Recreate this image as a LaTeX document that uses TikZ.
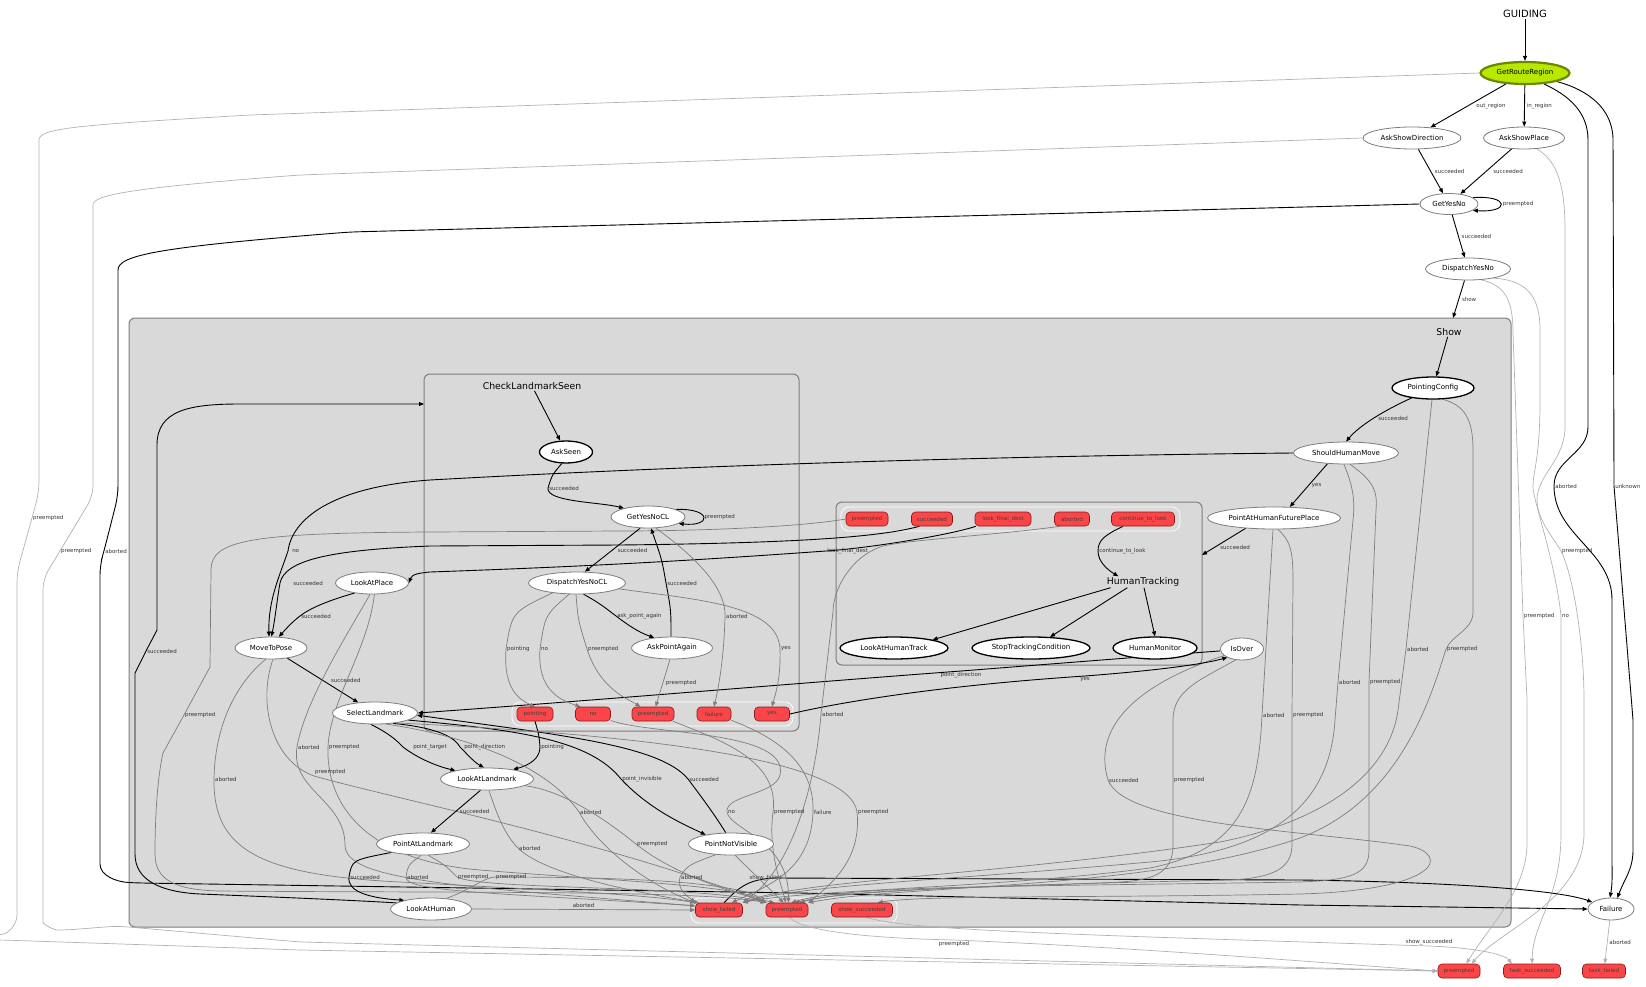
\documentclass[tikz,border=0pt]{standalone}
\usepackage{fontspec}
\setmainfont{DejaVu Sans}
\usetikzlibrary{arrows.meta,positioning,shapes.geometric}
\definecolor{outred}{RGB}{250,70,72}
\definecolor{outline}{RGB}{140,25,25}
\definecolor{limefill}{RGB}{185,232,0}
\definecolor{limeline}{RGB}{105,135,0}
\definecolor{clfill}{RGB}{217,217,217}
\definecolor{clline}{RGB}{125,125,125}
\definecolor{midgray}{RGB}{125,125,125}
\definecolor{lightgray}{RGB}{178,178,178}
\definecolor{lbltext}{RGB}{55,50,45}
\pgfdeclarelayer{bg}
\pgfdeclarelayer{edgelayer}
\pgfsetlayers{bg,edgelayer,main}
\tikzset{
  stnode/.style={ellipse,draw=clline,fill=white,line width=0.8pt,minimum height=22pt,inner sep=0pt,font=\fontsize{7}{8}\selectfont},
  stbold/.style={stnode,draw=black,line width=1.3pt},
  outbox/.style={rectangle,rounded corners=4pt,draw=outline,fill=outred,line width=0.6pt,minimum height=14pt,inner sep=1pt,font=\fontsize{5.6}{6}\selectfont,text=black!75},
  cltitle/.style={font=\fontsize{9.3}{10}\selectfont,inner sep=1pt},
  clbox/.style={draw=clline,fill=clfill,line width=1pt,rounded corners=6pt},
  holdbox/.style={draw=white,line width=0.7pt,rounded corners=8pt},
  bedge/.style={draw=black,line width=0.9pt,-{Triangle[length=5pt,width=4pt]}},
  gedge/.style={draw=midgray,line width=0.7pt,-{Triangle[length=5pt,width=4pt]}},
  ledge/.style={gedge,draw=lightgray},
  lbl/.style={font=\fontsize{5.5}{6}\selectfont,text=lbltext,inner sep=0.8pt,anchor=west}
}

\begin{document}
\begin{tikzpicture}[x=1pt,y=1pt]
\useasboundingbox (0,0) rectangle (1646,-987);

% containers
\begin{pgfonlayer}{bg}
  \draw[clbox] (129,-318) rectangle (1511,-927);
  \draw[clbox] (424,-374) rectangle (799,-731);
  \draw[clbox] (836,-502) rectangle (1202,-665);
  \draw[holdbox] (512,-702) rectangle (793,-726);
  \draw[holdbox] (841,-507) rectangle (1180,-531);
  \draw[holdbox] (691,-898) rectangle (897,-923);
\end{pgfonlayer}

% top level states
\node[cltitle,font=\fontsize{10}{11}\selectfont] (guiding) at (1525,-14) {GUIDING};
\node[stnode,fill=limefill,draw=limeline,line width=2.2pt,minimum width=89pt] (grr) at (1525,-73) {GetRouteRegion};
\node[stnode,minimum width=98pt] (asd) at (1412,-138) {AskShowDirection};
\node[stnode,minimum width=81pt] (asp) at (1524,-138) {AskShowPlace};
\node[stnode,minimum width=58pt,minimum height=21pt] (gyn) at (1449,-204) {GetYesNo};
\node[stnode,minimum width=85pt] (dyn) at (1468,-269) {DispatchYesNo};
\node[stnode,minimum width=46pt] (fail) at (1611,-909) {Failure};
\node[outbox,minimum width=42pt] (fpre) at (1459,-971) {preempted};
\node[outbox,minimum width=57pt] (fsucc) at (1532,-971) {task\_succeeded};
\node[outbox,minimum width=43pt] (ffail) at (1604,-971) {task\_failed};

% Show
\node[cltitle] (showlbl) at (1449,-332) {Show};
\coordinate (showin) at (1453,-318);
\node[stbold,minimum width=82pt] (pc) at (1433,-388) {PointingConfig};
\node[stnode,minimum width=105pt] (shm) at (1346,-453) {ShouldHumanMove};
\node[stnode,minimum width=133pt] (pahfp) at (1274,-518) {PointAtHumanFuturePlace};
\node[stnode,minimum width=43pt] (isover) at (1242,-649) {IsOver};
\node[stnode,minimum width=73pt] (lap) at (372,-583) {LookAtPlace};
\node[stnode,minimum width=72pt] (mtp) at (271,-648) {MoveToPose};
\node[stnode,minimum width=85pt] (sl) at (375,-713) {SelectLandmark};
\node[stnode,minimum width=93pt] (lal) at (487,-779) {LookAtLandmark};
\node[stnode,minimum width=93pt] (pal) at (423,-844) {PointAtLandmark};
\node[stnode,minimum width=81pt] (lah) at (431,-909) {LookAtHuman};
\node[stnode,minimum width=85pt] (pnv) at (731,-844) {PointNotVisible};
\foreach \nm/\xx/\ww/\lab in {sfail/719/47/show\_failed, spre/787/42/preempted, ssucc/862/61/show\_succeeded}
  \node[outbox,minimum width=\ww pt] (\nm) at (\xx,-910) {\lab};

% CheckLandmarkSeen
\node[cltitle] (cllbl) at (532,-386) {CheckLandmarkSeen};
\coordinate (clin) at (424,-404);
\node[stbold,minimum width=53pt] (askseen) at (566,-452) {AskSeen};
\node[stnode,minimum width=74pt] (gyncl) at (648,-517) {GetYesNoCL};
\node[stnode,minimum width=97pt] (dyncl) at (577,-583) {DispatchYesNoCL};
\node[stnode,minimum width=81pt] (apa) at (672,-648) {AskPointAgain};
\foreach \nm/\xx/\ww/\lab in {clpoint/535/36/pointing, clno/593/35/no, clpre/653/42/preempted, clfail/714/34/failure, clyes/772/35/yes}
  \node[outbox,minimum width=\ww pt] (\nm) at (\xx,-714) {\lab};

% HumanTracking
\node[cltitle] (ht) at (1143,-582) {HumanTracking};
\coordinate (htin) at (1202,-555);
\node[stbold,minimum width=108pt] (laht) at (894,-648) {LookAtHumanTrack};
\node[stbold,minimum width=118pt] (stc) at (1031,-648) {StopTrackingCondition};
\node[stbold,minimum width=84pt] (hm) at (1155,-648) {HumanMonitor};
\foreach \nm/\xx/\ww/\lab in {htpre/867/42/preempted, htsucc/932/41/succeeded, htlfd/1003/56/look\_final\_dest, htab/1072/35/aborted, htctl/1143/63/continue\_to\_look}
  \node[outbox,minimum width=\ww pt] (\nm) at (\xx,-519) {\lab};

\begin{pgfonlayer}{edgelayer}
% top level
\draw[bedge] (guiding) -- (grr);
\draw[bedge] (grr) -- node[lbl,right=7pt]{out\_region} (asd);
\draw[bedge] (grr) -- node[lbl,right=1pt]{in\_region} (asp);
\draw[bedge] (asd) -- node[lbl,right=3pt]{succeeded} (gyn);
\draw[bedge] (asp) -- node[lbl,right=6pt]{succeeded} (gyn);
\draw[bedge] (gyn.15) .. controls (1510,-195) and (1510,-213) .. (gyn.-15) node[lbl,pos=.5,right=1pt]{preempted};
\draw[bedge] (gyn) -- node[lbl,right=2pt]{succeeded} (dyn);
\draw[bedge] (dyn) -- node[lbl,right=2pt]{show} (showin);
\draw[bedge] (grr.-30) to[out=-25,in=90] (1588,-140) -- (1588,-427) to[out=-90,in=90] (1554,-486) node[lbl]{aborted} to[out=-90,in=90] (1612,-600) -- (1612,-860) to[out=-90,in=80] (fail.95);
\draw[bedge] (grr.-15) to[out=-15,in=90] (1613,-140) -- (1614,-486) node[lbl]{unknown} -- (1633,-720) -- (1633,-850) to[out=-90,in=70] (fail.60);
\draw[ledge,rounded corners=10pt] (grr.west) -- (250,-115) .. controls (80,-125) and (39,-128) .. (39,-150) -- (39,-492) -- (32,-518) node[lbl]{preempted} -- (17,-572) -- (17,-905) .. controls (17,-925) and (8,-933) .. (-6,-936) .. controls (-12,-937) and (-10,-940) .. (2,-940) -- (300,-950) -- (fpre.west);
\draw[ledge,rounded corners=10pt] (asd.west) -- (300,-175) .. controls (130,-188) and (93,-195) .. (93,-215) -- (93,-496) -- (60,-551) node[lbl]{preempted} -- (43,-579) -- (43,-912) .. controls (43,-925) and (55,-930) .. (67,-930) -- (117,-926) -- (300,-942) -- (fpre.west);
\draw[bedge,rounded corners=10pt] (gyn.west) -- (350,-232) .. controls (160,-247) and (118,-255) .. (118,-280) -- (118,-496) -- (104,-551) node[lbl]{aborted} -- (100,-565) -- (100,-854) .. controls (100,-875) and (115,-882) .. (140,-883) -- (800,-893) -- (1300,-905) -- (fail.west);
\draw[ledge] (fail) -- node[lbl,right=1pt]{aborted} (ffail);
\draw[ledge] (dyn.-40) .. controls (1505,-285) and (1513,-300) .. (1513,-333) -- (1523,-616) node[lbl]{preempted} -- (1527,-700) -- (1527,-843) .. controls (1527,-890) and (1490,-925) .. (fpre.45);
\draw[ledge] (dyn.-20) .. controls (1530,-280) and (1540,-300) .. (1540,-330) -- (1540,-400) .. controls (1540,-460) and (1533,-470) .. (1533,-487) .. controls (1533,-500) and (1555,-560) .. (1561,-616) node[lbl]{no} -- (1561,-833) .. controls (1561,-900) and (1533,-920) .. (fsucc.north);
\draw[ledge] (asp.-40) .. controls (1555,-160) and (1565,-180) .. (1565,-230) -- (1565,-427) .. controls (1565,-460) and (1537,-475) .. (1537,-500) .. controls (1537,-520) and (1555,-540) .. (1561,-551) node[lbl]{preempted} .. controls (1575,-580) and (1584,-650) .. (1584,-700) -- (1584,-833) .. controls (1584,-900) and (1500,-930) .. (fpre.30);

% Show outcomes
\draw[bedge] (sfail.55) .. controls (738,-888) and (748,-879) .. (775,-878) node[lbl,anchor=east,xshift=8pt]{show\_failed} -- (1300,-880) .. controls (1450,-882) and (1560,-890) .. (fail.160);
\draw[ledge] (spre.-70) .. controls (800,-930) and (860,-938) .. (954,-940) node[lbl,anchor=north]{preempted} .. controls (1150,-948) and (1350,-965) .. (fpre.west);
\draw[ledge] (ssucc.-60) .. controls (890,-925) and (950,-930) .. (1150,-937) .. controls (1300,-942) and (1400,-945) .. (1429,-946) node[lbl,anchor=south]{show\_succeeded} .. controls (1480,-948) and (1505,-955) .. (fsucc.160);

% inside Show
\draw[bedge] (showlbl) -- (pc);
\draw[bedge] (pc.-155) .. controls (1385,-410) and (1360,-425) .. (shm.north) node[lbl,pos=.5,right=3pt]{succeeded};
\draw[bedge] (shm.-150) -- node[lbl,right=2pt]{yes} (pahfp.35);
\draw[bedge] (pahfp.-160) -- node[lbl,pos=.7,xshift=4pt]{succeeded} (htin);
\draw[gedge] (pc.-95) -- (1406,-649) node[lbl]{aborted} -- (1398,-710) .. controls (1390,-770) and (1330,-820) .. (1220,-842) .. controls (1000,-875) and (800,-880) .. (sfail.north east);
\draw[gedge] (pc.-50) .. controls (1465,-405) and (1473,-420) .. (1473,-450) -- (1473,-612) .. controls (1473,-630) and (1452,-635) .. (1446,-649) node[lbl]{preempted} .. controls (1430,-700) and (1400,-800) .. (1300,-838) .. controls (1150,-890) and (900,-885) .. (spre.north east);
\draw[gedge] (shm.-100) .. controls (1350,-480) and (1356,-495) .. (1353,-520) -- (1338,-682) node[lbl]{aborted} -- (1335,-720) .. controls (1330,-800) and (1280,-850) .. (1150,-862) .. controls (950,-880) and (800,-885) .. (sfail.north east);
\draw[gedge] (shm.-70) .. controls (1372,-480) and (1378,-490) .. (1376,-510) -- (1369,-682) node[lbl]{preempted} -- (1369,-850) .. controls (1369,-875) and (1350,-880) .. (1300,-882) .. controls (1000,-887) and (850,-885) .. (spre.60);
\draw[gedge] (pahfp.-95) -- (1262,-715) node[lbl]{aborted} .. controls (1258,-800) and (1240,-850) .. (1150,-868) .. controls (1000,-888) and (800,-890) .. (sfail.north east);
\draw[gedge] (pahfp.-72) .. controls (1290,-540) and (1293,-550) .. (1293,-580) -- (1292,-715) node[lbl]{preempted} -- (1292,-845) .. controls (1292,-870) and (1270,-878) .. (1230,-880) .. controls (1000,-885) and (850,-890) .. (spre.45);
\draw[gedge] (isover.-160) .. controls (1150,-680) and (1090,-720) .. (1108,-780) node[lbl]{succeeded} .. controls (1125,-825) and (1300,-830) .. (1410,-846) .. controls (1450,-855) and (1440,-890) .. (1300,-894) .. controls (1100,-898) and (920,-895) .. (ssucc.25);
\draw[gedge] (isover.-120) .. controls (1200,-680) and (1173,-690) .. (1173,-720) -- (1173,-780) node[lbl]{preempted} -- (1173,-845) .. controls (1173,-872) and (1155,-880) .. (1120,-882) .. controls (1000,-888) and (850,-888) .. (spre.30);
\draw[bedge] (clyes.east) .. controls (850,-700) and (950,-685) .. (1085,-676) node[lbl,anchor=north]{yes} .. controls (1150,-671) and (1200,-665) .. (isover.-150);
\draw[bedge] (isover.-175) .. controls (1100,-660) and (1000,-668) .. (961,-671) node[lbl,anchor=north]{point\_direction} .. controls (800,-683) and (600,-700) .. (sl.east);

% HumanTracking
\draw[bedge] (htctl.-160) .. controls (1105,-535) and (1098,-540) .. (1098,-551) node[lbl]{continue\_to\_look} .. controls (1098,-562) and (1108,-570) .. (ht.167);
\draw[bedge] (ht.-170) -- (laht.north east);
\draw[bedge] (ht.-160) -- (stc.30);
\draw[bedge] (ht.-80) -- (hm.north);
\draw[bedge] (htlfd.-165) .. controls (950,-535) and (870,-548) .. (826,-551) node[lbl]{look\_final\_dest} .. controls (700,-560) and (600,-566) .. (430,-572) .. controls (420,-573) and (412,-574) .. (lap.east);
\draw[bedge] (htsucc.-150) .. controls (880,-537) and (800,-543) .. (620,-545) -- (430,-546) .. controls (330,-550) and (285,-560) .. (280,-583) node[lbl,xshift=12pt]{succeeded} .. controls (277,-600) and (275,-620) .. (mtp.88);
\draw[gedge] (htpre.west) .. controls (800,-527) and (700,-531) .. (620,-531) -- (430,-532) .. controls (250,-533) and (211,-540) .. (211,-570) -- (210,-667) -- (184,-715) node[lbl]{preempted} -- (163,-753) .. controls (157,-780) and (155,-820) .. (155,-854) .. controls (155,-880) and (175,-890) .. (220,-891) .. controls (450,-893) and (700,-890) .. (spre.north west);
\draw[gedge] (htab.-150) .. controls (1000,-535) and (900,-540) .. (880,-547) .. controls (850,-558) and (833,-590) .. (833,-612) -- (821,-714) node[lbl]{aborted} .. controls (815,-790) and (790,-870) .. (sfail.north east);

% left part of Show
\draw[bedge] (shm.west) .. controls (1000,-456) and (700,-465) .. (430,-480) .. controls (330,-487) and (292,-520) .. (288,-551) node[lbl,xshift=3pt]{no} .. controls (280,-575) and (268,-600) .. (mtp.100);
\draw[bedge] (lap.-150) .. controls (330,-600) and (310,-608) .. (300,-616) node[lbl]{succeeded} .. controls (292,-622) and (285,-630) .. (mtp.55);
\draw[bedge] (mtp) -- node[lbl,right=7pt]{succeeded} (sl);
\draw[gedge] (lap.-100) .. controls (350,-630) and (305,-700) .. (297,-747) node[lbl]{aborted} .. controls (290,-790) and (345,-800) .. (345,-845) .. controls (345,-880) and (450,-886) .. (sfail.170);
\draw[gedge] (lap.-78) .. controls (368,-650) and (330,-700) .. (328,-747) node[lbl]{preempted} .. controls (326,-800) and (360,-860) .. (480,-870) .. controls (600,-880) and (740,-885) .. (spre.north west);
\draw[gedge] (mtp.-115) .. controls (240,-680) and (215,-720) .. (214,-779) node[lbl]{aborted} .. controls (213,-850) and (260,-875) .. (400,-882) .. controls (550,-890) and (650,-895) .. (sfail.north west);
\draw[gedge] (mtp.-80) .. controls (258,-700) and (270,-760) .. (314,-776) node[lbl,anchor=south west]{preempted} .. controls (400,-800) and (600,-840) .. (spre.north west);
\draw[bedge] (sl.-110) .. controls (392,-735) and (398,-742) .. (403,-747) node[lbl,xshift=9pt]{point\_target} .. controls (420,-760) and (440,-767) .. (lal.165);
\draw[bedge] (sl.-30) .. controls (440,-728) and (455,-738) .. (460,-747) node[lbl,xshift=3pt]{point\_direction} .. controls (468,-755) and (474,-762) .. (lal.105);
\draw[bedge] (clpoint.south) .. controls (539,-735) .. (540,-747) node[lbl]{pointing} .. controls (540,-758) and (530,-765) .. (lal.20);
\draw[bedge] (sl.-12) .. controls (520,-730) and (590,-740) .. (621,-779) node[lbl]{point\_invisible} .. controls (650,-810) and (685,-825) .. (pnv.160);
\draw[bedge] (pnv.115) .. controls (715,-815) and (700,-795) .. (688,-779) node[lbl]{succeeded} .. controls (660,-745) and (560,-735) .. (sl.-3);
\draw[gedge] (sl.-45) .. controls (480,-738) and (550,-770) .. (579,-812) node[lbl]{aborted} .. controls (600,-850) and (650,-885) .. (sfail.north west);
\draw[gedge] (sl.-25) .. controls (650,-735) and (850,-760) .. (857,-812) node[lbl]{preempted} .. controls (862,-860) and (830,-885) .. (spre.north east);
\draw[bedge] (lal.-120) -- node[lbl,right=3pt]{succeeded} (pal.55);
\draw[gedge] (lal.-80) .. controls (497,-815) and (505,-835) .. (518,-848) node[lbl]{aborted} .. controls (545,-875) and (640,-893) .. (sfail.160);
\draw[gedge] (lal.-10) .. controls (560,-790) and (600,-815) .. (636,-844) node[lbl]{preempted} .. controls (670,-872) and (730,-893) .. (spre.150);
\draw[bedge] (pal.-165) .. controls (352,-860) .. (349,-877) node[lbl]{succeeded} .. controls (347,-892) and (370,-898) .. (lah.162);
\draw[gedge] (pal.-100) .. controls (408,-865) .. (406,-877) node[lbl]{aborted} .. controls (404,-892) and (500,-893) .. (sfail.170);
\draw[gedge] (pal.-65) .. controls (445,-865) .. (457,-877) node[lbl]{preempted} .. controls (480,-890) and (700,-885) .. (spre.160);
\draw[gedge] (lah.35) .. controls (470,-890) and (485,-877) .. (495,-877) node[lbl]{preempted} .. controls (600,-877) and (740,-880) .. (spre.north west);
\draw[gedge] (lah.east) -- node[lbl,above=1pt]{aborted} (sfail.west);
\draw[bedge] (lah.170) .. controls (350,-900) and (250,-896) .. (200,-894) .. controls (160,-892) and (135,-880) .. (135,-854) -- (135,-673) -- (146,-651) node[lbl]{succeeded} -- (157,-630) -- (157,-445) .. controls (157,-410) and (190,-404) .. (240,-404) -- (clin);
\draw[gedge] (pnv.-145) .. controls (688,-865) .. (680,-877) node[lbl]{aborted} .. controls (676,-890) and (690,-898) .. (sfail.north west);
\draw[gedge] (pnv.-70) -- (spre.115);

% CheckLandmarkSeen
\draw[bedge] (cllbl) -- (askseen);
\draw[bedge] (askseen.-110) .. controls (552,-475) .. (548,-488) node[lbl]{succeeded} .. controls (546,-502) and (600,-502) .. (gyncl.160);
\draw[bedge] (gyncl.15) .. controls (712,-508) and (712,-527) .. (gyncl.-12) node[lbl,pos=.5,right=0pt]{preempted};
\draw[bedge] (gyncl.-125) -- node[lbl,right=4pt]{succeeded} (dyncl.55);
\draw[gedge] (gyncl.-55) .. controls (700,-560) and (726,-590) .. (725,-616) node[lbl]{aborted} .. controls (724,-660) and (718,-690) .. (clfail.north);
\draw[bedge] (dyncl.-60) .. controls (600,-603) and (608,-610) .. (616,-616) node[lbl]{ask\_point\_again} .. controls (628,-625) and (638,-632) .. (apa.150);
\draw[bedge] (apa.95) .. controls (671,-610) .. (666,-583) node[lbl]{succeeded} .. controls (662,-560) .. (gyncl.-75);
\draw[gedge] (apa.-100) -- node[lbl,right=2pt]{preempted} (clpre.70);
\draw[gedge] (dyncl.-158) .. controls (512,-612) .. (506,-649) node[lbl]{pointing} .. controls (503,-690) and (520,-700) .. (clpoint.north);
\draw[gedge] (dyncl.-125) .. controls (545,-615) .. (540,-649) node[lbl]{no} .. controls (537,-690) and (560,-700) .. (clno.150);
\draw[gedge] (dyncl.-95) .. controls (578,-620) .. (587,-649) node[lbl]{preempted} .. controls (600,-690) and (630,-700) .. (clpre.150);
\draw[gedge] (dyncl.-8) .. controls (700,-600) and (778,-605) .. (780,-649) node[lbl]{yes} .. controls (781,-680) and (775,-695) .. (clyes.north);
\draw[gedge] (clno.-20) .. controls (650,-735) and (790,-730) .. (780,-775) .. controls (775,-795) and (725,-795) .. (727,-812) node[lbl]{no} .. controls (730,-830) and (790,-840) .. (spre.80);
\draw[gedge] (clpre.-20) .. controls (720,-740) and (780,-760) .. (773,-812) node[lbl]{preempted} .. controls (768,-850) and (780,-880) .. (spre.100);
\draw[gedge] (clfail.-20) .. controls (770,-735) and (815,-760) .. (813,-812) node[lbl]{failure} .. controls (811,-870) and (770,-885) .. (sfail.30);
\end{pgfonlayer}
\end{tikzpicture}
\end{document}
